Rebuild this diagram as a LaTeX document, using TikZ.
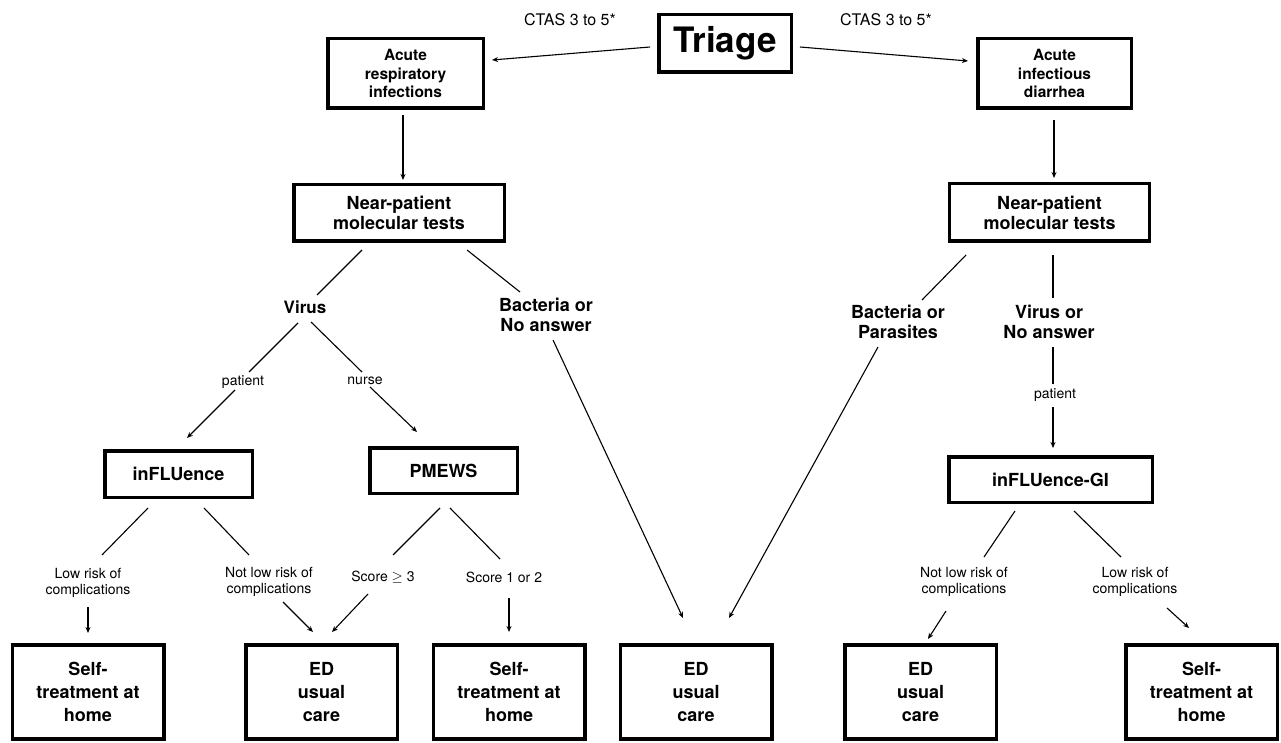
\documentclass[tikz,border=0pt]{standalone}
\usepackage{fontspec}
\setmainfont{TeX Gyre Heros}
\usetikzlibrary{arrows.meta}

\tikzset{
  box/.style={draw, line width=3.5pt, align=center, inner sep=0pt,
    font=\bfseries\fontsize{18}{20}\selectfont},
  pick/.style={align=center, inner sep=0pt, font=\bfseries\fontsize{18}{20}\selectfont},
  tag/.style={align=center, inner sep=0pt, font=\fontsize{14}{16}\selectfont},
  link/.style={line width=1.1pt},
  arr/.style={link, -{Stealth[length=6pt,width=5pt]}}
}

\begin{document}
\begin{tikzpicture}[x=1pt,y=-1pt]

      \useasboundingbox (0,0) rectangle (1281,743);

      % top
      \node[box, minimum width=132.5, minimum height=57.5, font=\bfseries\fontsize{35}{40}\selectfont] (triage) at (725,43.5) {Triage};
      \node[tag, font=\fontsize{16}{18}\selectfont] (ctasL) at (570,20) {CTAS 3 to 5*};
      \node[tag, font=\fontsize{16}{18}\selectfont] (ctasR) at (886,20) {CTAS 3 to 5*};
      \node[box, minimum width=155.5, minimum height=69.5, font=\bfseries\fontsize{15.5}{18.5}\selectfont] (ari) at (405.5,73.5) {Acute\\respiratory\\infections};
      \node[box, minimum width=153.5, minimum height=69.5, font=\bfseries\fontsize{15.5}{18.5}\selectfont] (aid) at (1054.5,73.5) {Acute\\infectious\\diarrhea};
      \node[box, minimum width=210.5, minimum height=56.5] (nearL) at (399,213) {Near-patient\\molecular tests};
      \node[box, minimum width=200, minimum height=57.5] (nearR) at (1049.5,212.5) {Near-patient\\molecular tests};

      % test results
      \node[pick, font=\bfseries\fontsize{17}{20}\selectfont] (virus) at (305,307) {Virus};
      \node[pick] (bactNo) at (546,315) {Bacteria or\\No answer};
      \node[pick] (bactPar) at (898,322) {Bacteria or\\Parasites};
      \node[pick] (virusNo) at (1049,322) {Virus or\\No answer};
      \node[tag] (patL) at (243,382) {patient};
      \node[tag] (nurse) at (365,381) {nurse};
      \node[tag] (patR) at (1055,395) {patient};

      % scores
      \node[box, minimum width=147.5, minimum height=46.5] (influ) at (178.5,474) {inFLUence};
      \node[box, minimum width=147.5, minimum height=45.5] (pmews) at (443.5,470.5) {PMEWS};
      \node[box, minimum width=203.5, minimum height=45.5] (influgi) at (1050.5,479.5) {inFLUence-GI};
      \node[tag] (lowL) at (88,583) {Low risk of\\complications};
      \node[tag] (notlowL) at (269,582) {Not low risk of\\complications};
      \node[tag] (score3) at (383,577) {Score $\geq$ 3};
      \node[tag] (score12) at (504,577) {Score 1 or 2};
      \node[tag] (notlowR) at (964,582) {Not low risk of\\complications};
      \node[tag] (lowR) at (1135,582) {Low risk of\\complications};

      % outcomes
      \tikzset{outcome/.style={box, minimum width=151.5, minimum height=94, font=\bfseries\fontsize{18}{23}\selectfont}}
      \node[outcome] (self1) at (88,692) {Self-\\treatment at\\home};
      \node[outcome] (ed1) at (321.5,692) {ED\\usual\\care};
      \node[outcome] (self2) at (509,692) {Self-\\treatment at\\home};
      \node[outcome] (ed2) at (696,692) {ED\\usual\\care};
      \node[outcome] (ed3) at (920.5,692) {ED\\usual\\care};
      \node[outcome] (self3) at (1201.5,692) {Self-\\treatment at\\home};

      % connectors
      \draw[arr] ([shift={(-75,3.5)}]triage.center) -- ([shift={(86.5,-13.5)}]ari.center);
      \draw[arr] ([shift={(75,3.5)}]triage.center) -- ([shift={(-86.5,-12.5)}]aid.center);
      \draw[arr] ([shift={(-2.5,41.5)}]ari.center) -- ([shift={(4,-33)}]nearL.center);
      \draw[arr] ([shift={(-0.5,46.5)}]aid.center) -- ([shift={(4.5,-34.5)}]nearR.center);

      \draw[link] ([shift={(-37,37)}]nearL.center) -- ([shift={(12,-12)}]virus.center);
      \draw[link] ([shift={(68,37)}]nearL.center) -- ([shift={(-26,-23)}]bactNo.center);
      \draw[link] ([shift={(-83.5,42.5)}]nearR.center) -- ([shift={(24,-22)}]bactPar.center);
      \draw[link] ([shift={(3.5,42.5)}]nearR.center) -- ([shift={(4,-24)}]virusNo.center);

      \draw[link] ([shift={(-7,16)}]virus.center) -- ([shift={(6,-10)}]patL.center);
      \draw[arr] ([shift={(-8,8)}]patL.center) -- ([shift={(8.5,-36)}]influ.center);
      \draw[link] ([shift={(6,15)}]virus.center) -- ([shift={(-3,-9)}]nurse.center);
      \draw[arr] ([shift={(5,6)}]nurse.center) -- ([shift={(-26.5,-38.5)}]pmews.center);
      \draw[arr] ([shift={(7,25)}]bactNo.center) -- ([shift={(-13,-74)}]ed2.center);
      \draw[arr] ([shift={(-20,25)}]bactPar.center) -- ([shift={(33,-74)}]ed2.center);
      \draw[link] ([shift={(4,25)}]virusNo.center) -- ([shift={(-2,-11)}]patR.center);
      \draw[arr] ([shift={(-2,12)}]patR.center) -- ([shift={(2.5,-31.5)}]influgi.center);

      \draw[link] ([shift={(-30.5,34)}]influ.center) -- ([shift={(14,-28)}]lowL.center);
      \draw[link] ([shift={(25.5,34)}]influ.center) -- ([shift={(-20,-27)}]notlowL.center);
      \draw[arr] ([shift={(0,24)}]lowL.center) -- ([shift={(0,-59)}]self1.center);
      \draw[arr] ([shift={(14,20)}]notlowL.center) -- ([shift={(-8.5,-60)}]ed1.center);
      \draw[link] ([shift={(-3.5,37.5)}]pmews.center) -- ([shift={(10,-22)}]score3.center);
      \draw[link] ([shift={(6.5,37.5)}]pmews.center) -- ([shift={(-4,-18)}]score12.center);
      \draw[arr] ([shift={(-15,17)}]score3.center) -- ([shift={(10.5,-60)}]ed1.center);
      \draw[arr] ([shift={(5,21)}]score12.center) -- ([shift={(0,-60)}]self2.center);
      \draw[link] ([shift={(-35.5,31.5)}]influgi.center) -- ([shift={(20,-25)}]notlowR.center);
      \draw[link] ([shift={(23.5,31.5)}]influgi.center) -- ([shift={(-14,-25)}]lowR.center);
      \draw[arr] ([shift={(-18,29)}]notlowR.center) -- ([shift={(7.5,-53)}]ed3.center);
      \draw[arr] ([shift={(32,26)}]lowR.center) -- ([shift={(-12.5,-64)}]self3.center);

    \end{tikzpicture}
\end{document}
